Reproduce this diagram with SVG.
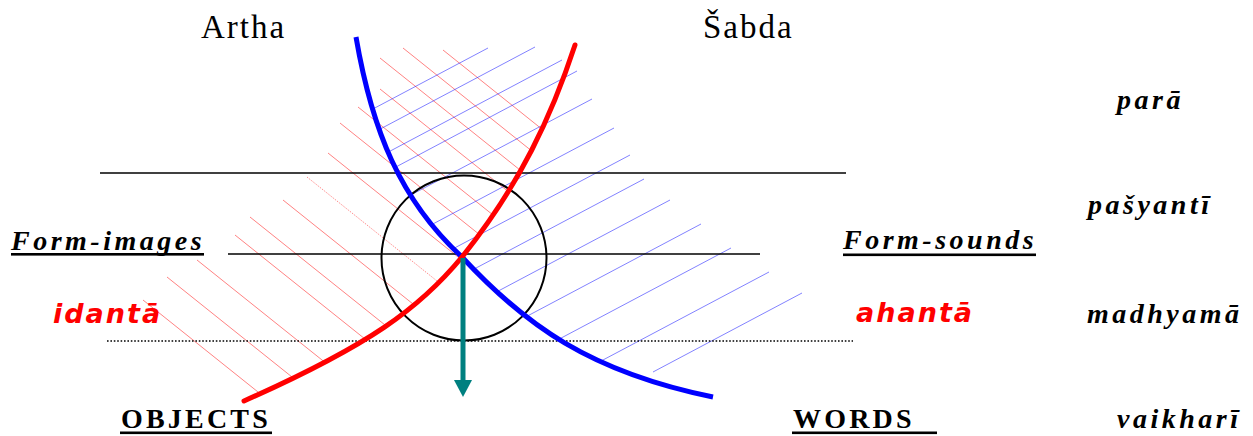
<svg xmlns="http://www.w3.org/2000/svg" width="1253" height="436" viewBox="0 0 1253 436">
<style>
.serif{font-family:"Liberation Serif","Times New Roman",serif;fill:#000}
.bi{font-family:"Liberation Serif","Times New Roman",serif;font-weight:bold;font-style:italic;font-size:28px;letter-spacing:3.5px;fill:#000}
.b{font-family:"Liberation Serif","Times New Roman",serif;font-weight:bold;font-size:28px;letter-spacing:3.2px;fill:#000}
.red{font-family:"DejaVu Sans",Verdana,sans-serif;font-weight:bold;font-style:italic;font-size:27px;letter-spacing:2px;fill:#ff0000}
.rh line{stroke:#ff2020;stroke-width:0.75;stroke-opacity:0.75}
.bh line{stroke:#2020ff;stroke-width:0.75;stroke-opacity:0.75}
.hl{stroke:#000;stroke-width:1.7;fill:none}
</style>
<defs>
<clipPath id="clipRed"><path d="M575,45 C552,115 520,185 462,257 C420,308 370,345 244,401 L244,436 L0,436 L0,0 L575,0 Z"/></clipPath>
<clipPath id="clipBlue"><path d="M356,37 C372,130 400,200 462,257 C525,325 590,372 713,397 L1253,436 L1253,0 L356,0 Z"/></clipPath>
</defs>
<rect width="1253" height="436" fill="#fff"/>
<g id="hatch-red" class="rh" clip-path="url(#clipRed)">
<line x1="443" y1="50" x2="843" y2="370"/>
<line x1="403" y1="48" x2="803" y2="368"/>
<line x1="380" y1="58" x2="780" y2="378"/>
<line x1="380" y1="89" x2="780" y2="409"/>
<line x1="358" y1="107" x2="758" y2="427"/>
<line x1="340" y1="123" x2="740" y2="443"/>
<line x1="328" y1="153" x2="728" y2="473"/>
<line x1="307" y1="177" x2="707" y2="497" stroke-dasharray="1.2 1.2" stroke-opacity="1"/>
<line x1="283" y1="200" x2="683" y2="520"/>
<line x1="250" y1="217" x2="650" y2="537"/>
<line x1="235" y1="235" x2="635" y2="555"/>
<line x1="197" y1="260" x2="597" y2="580"/>
<line x1="167" y1="277" x2="567" y2="597"/>
<line x1="143" y1="300" x2="543" y2="620"/>
</g>
<g id="hatch-blue" class="bh" clip-path="url(#clipBlue)">
<line x1="488" y1="48" x2="188" y2="207"/>
<line x1="535" y1="47" x2="235" y2="206"/>
<line x1="562" y1="60" x2="262" y2="219"/>
<line x1="577" y1="71" x2="277" y2="230"/>
<line x1="592" y1="99" x2="292" y2="258"/>
<line x1="614" y1="128" x2="314" y2="287"/>
<line x1="630" y1="155" x2="330" y2="314"/>
<line x1="644" y1="179" x2="344" y2="338"/>
<line x1="670" y1="200" x2="370" y2="359"/>
<line x1="701" y1="224" x2="401" y2="383"/>
<line x1="731" y1="248" x2="431" y2="407"/>
<line x1="769" y1="272" x2="469" y2="431"/>
<line x1="802" y1="293" x2="653" y2="372"/>
</g>
<g id="levels">
<line class="hl" x1="100" y1="173" x2="846" y2="173"/>
<line class="hl" x1="228" y1="254" x2="760" y2="254"/>
<line x1="107" y1="341" x2="853" y2="341" stroke="#000" stroke-width="1.6" stroke-dasharray="1.6 1.8"/>
</g>
<g id="circle">
<circle cx="464" cy="258" r="82.5" fill="none" stroke="#000" stroke-width="2"/>
</g>
<g id="curves">
<path id="sabda-curve" d="M356,37 C372,130 400,200 462,257 C525,325 590,372 713,397" fill="none" stroke="#0000ff" stroke-width="5"/>
<path id="artha-curve" d="M575,45 C552,115 520,185 462,257 C420,308 370,345 244,401" fill="none" stroke="#ff0000" stroke-width="5" stroke-linecap="round"/>
</g>
<g id="connectors">
<line x1="463" y1="258" x2="463" y2="381" stroke="#008080" stroke-width="5"/>
<polygon points="454,380 472,380 463,397" fill="#008080"/>
</g>
<g id="label-artha"><text class="serif" x="201" y="38" font-size="33" letter-spacing="2">Artha</text></g>
<g id="label-sabda"><text class="serif" x="703" y="38" font-size="33" letter-spacing="2">Šabda</text></g>
<g id="label-form-images"><text class="bi" x="11" y="250">Form-images</text><rect x="11" y="253" width="193" height="2.6" fill="#000"/></g>
<g id="label-form-sounds"><text class="bi" x="843" y="249">Form-sounds</text><rect x="843" y="253.5" width="193" height="2.6" fill="#000"/></g>
<g id="label-idanta"><text class="red" x="53" y="323">idantā</text></g>
<g id="label-ahanta"><text class="red" x="856" y="322">ahantā</text></g>
<g id="label-objects"><text class="b" x="121" y="428">OBJECTS</text><rect x="120" y="431.5" width="152" height="2.6" fill="#000"/></g>
<g id="label-words"><text class="b" x="793" y="428">WORDS</text><rect x="792" y="431.5" width="145" height="2.6" fill="#000"/></g>
<g id="label-para"><text class="bi" x="1117" y="109">parā</text></g>
<g id="label-pasyanti"><text class="bi" x="1088" y="214">pašyantī</text></g>
<g id="label-madhyama"><text class="bi" x="1087" y="323">madhyamā</text></g>
<g id="label-vaikhari"><text class="bi" x="1117" y="428">vaikharī</text></g>
</svg>
